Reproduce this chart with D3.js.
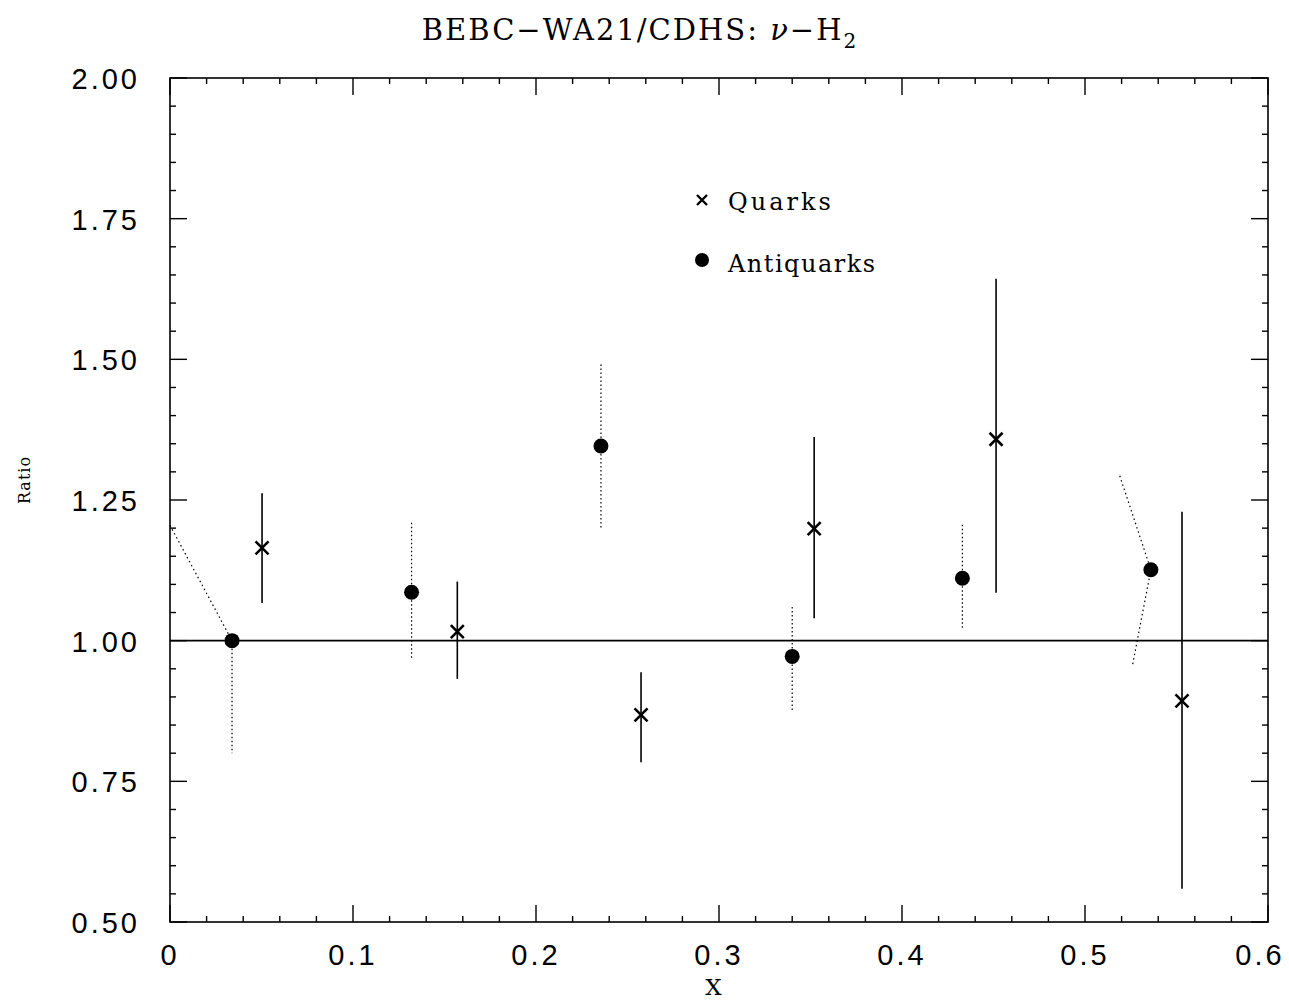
<!DOCTYPE html>
<html>
<head>
<meta charset="utf-8">
<script src="https://d3js.org/d3.v7.min.js"></script>
<style>
  body { margin: 0; background: #fff; }
  text { font-family: "DejaVu Serif", serif; fill: #000; }
  .tick-label { font-family: "Liberation Sans", Arial, sans-serif; font-size: 29px; letter-spacing: 3px; }
</style>
</head>
<body>
<div id="chart"></div>
<script>
// ----------------------------------------------- //
// Data
var quarkX    = [0.0503, 0.157, 0.2574, 0.352, 0.4514, 0.553];
var quarkY    = [1.165, 1.016, 0.868, 1.199, 1.358, 0.893];
var quarkLo   = [1.067, 0.932, 0.784, 1.040, 1.085, 0.559];
var quarkHi   = [1.262, 1.105, 0.944, 1.362, 1.643, 1.229];

var antiX     = [0.0339, 0.132, 0.2355, 0.340, 0.433, 0.536];
var antiY     = [1.000, 1.086, 1.346, 0.972, 1.111, 1.126];
var antiLo    = [0.800, 0.969, 1.197, 0.873, 1.019, null];
var antiHi    = [null, 1.210, 1.494, 1.063, 1.209, null];

// tilted dotted bars (drawn as in the original plot)
var slantBars = [
    [[0.0, 1.205], [0.0339, 1.000]],
    [[0.519, 1.293], [0.536, 1.126], [0.526, 0.957]]
];

var xTicks = [0, 0.1, 0.2, 0.3, 0.4, 0.5, 0.6];
var yTicks = [0.50, 0.75, 1.00, 1.25, 1.50, 1.75, 2.00];

// ----------------------------------------------- //
var svgWidth = 1289;
var svgHeight = 1002;
var margin = { top: 78, right: 21, bottom: 80, left: 170 };
var chartWidth = svgWidth - margin.left - margin.right;
var chartHeight = svgHeight - margin.top - margin.bottom;

var svg = d3.select("#chart")
    .append("svg")
    .attr("width", svgWidth)
    .attr("height", svgHeight);

var chartGroup = svg.append("g")
    .attr("transform", `translate(${margin.left}, ${margin.top})`);

var x = d3.scaleLinear().domain([0, 0.6]).range([0, chartWidth]);
var y = d3.scaleLinear().domain([0.5, 2.0]).range([chartHeight, 0]);

// ----------------------------------------------- //
// Frame and inward ticks on all four sides
chartGroup.append("rect")
    .attr("width", chartWidth)
    .attr("height", chartHeight)
    .attr("fill", "none")
    .attr("stroke", "#000")
    .attr("stroke-width", 1.6);

var xMinor = d3.range(0, 0.6001, 0.02);
var yMinor = d3.range(0.5, 2.0001, 0.05);

function isMajor(v, step) {
    return Math.abs(v / step - Math.round(v / step)) < 1e-6;
}

xMinor.forEach(function(v) {
    var len = isMajor(v, 0.1) ? 17 : 6;
    chartGroup.append("line").attr("x1", x(v)).attr("x2", x(v))
        .attr("y1", chartHeight).attr("y2", chartHeight - len)
        .attr("stroke", "#000").attr("stroke-width", 1.4);
    chartGroup.append("line").attr("x1", x(v)).attr("x2", x(v))
        .attr("y1", 0).attr("y2", len)
        .attr("stroke", "#000").attr("stroke-width", 1.4);
});

yMinor.forEach(function(v) {
    var len = isMajor(v, 0.25) ? 17 : 6;
    chartGroup.append("line").attr("x1", 0).attr("x2", len)
        .attr("y1", y(v)).attr("y2", y(v))
        .attr("stroke", "#000").attr("stroke-width", 1.4);
    chartGroup.append("line").attr("x1", chartWidth).attr("x2", chartWidth - len)
        .attr("y1", y(v)).attr("y2", y(v))
        .attr("stroke", "#000").attr("stroke-width", 1.4);
});

// Tick labels
chartGroup.selectAll(".xlab")
    .data(xTicks)
    .enter()
    .append("text")
    .attr("class", "tick-label")
    .attr("x", d => x(d) + (d === 0.6 ? -8 : 0))
    .attr("y", chartHeight + 43)
    .attr("text-anchor", "middle")
    .text(d => d === 0 ? "0" : d3.format(".1f")(d));

chartGroup.selectAll(".ylab")
    .data(yTicks)
    .enter()
    .append("text")
    .attr("class", "tick-label")
    .attr("x", -30)
    .attr("y", d => y(d) + 11)
    .attr("text-anchor", "end")
    .text(d => d3.format(".2f")(d));

// Axis titles
svg.append("text")
    .attr("x", margin.left + x(0.297))
    .attr("y", 995)
    .attr("text-anchor", "middle")
    .style("font-size", "23px")
    .text("X");

svg.append("text")
    .attr("transform", "translate(30, 480) rotate(-90)")
    .attr("text-anchor", "middle")
    .style("font-size", "16px")
    .style("letter-spacing", "1px")
    .text("Ratio");

// Title
var title = svg.append("text")
    .attr("x", 640)
    .attr("y", 40)
    .attr("text-anchor", "middle")
    .style("font-size", "29px")
    .style("letter-spacing", "2px");
title.append("tspan").text("BEBC\u2212WA21/CDHS: ");
title.append("tspan").style("font-style", "italic").text("\u03bd");
title.append("tspan").text("\u2212H");
title.append("tspan").attr("dy", 8).style("font-size", "20px").text("2");

// ----------------------------------------------- //
// Reference line at 1
chartGroup.append("line")
    .attr("x1", 0).attr("x2", chartWidth)
    .attr("y1", y(1)).attr("y2", y(1))
    .attr("stroke", "#000").attr("stroke-width", 1.8);

// Antiquark error bars (dotted)
antiX.forEach(function(xv, i) {
    if (antiLo[i] !== null) {
        chartGroup.append("line")
            .attr("x1", x(xv)).attr("x2", x(xv))
            .attr("y1", y(antiY[i])).attr("y2", y(antiLo[i]))
            .attr("stroke", "#000").attr("stroke-width", 1.2)
            .attr("stroke-dasharray", "1.5,2.5");
    }
    if (antiHi[i] !== null) {
        chartGroup.append("line")
            .attr("x1", x(xv)).attr("x2", x(xv))
            .attr("y1", y(antiY[i])).attr("y2", y(antiHi[i]))
            .attr("stroke", "#000").attr("stroke-width", 1.2)
            .attr("stroke-dasharray", "1.5,2.5");
    }
});

var slantLine = d3.line().x(d => x(d[0])).y(d => y(d[1]));
chartGroup.selectAll(".slant")
    .data(slantBars)
    .enter()
    .append("path")
    .attr("d", slantLine)
    .attr("fill", "none")
    .attr("stroke", "#000").attr("stroke-width", 1.2)
    .attr("stroke-dasharray", "1.5,3");

// Quark error bars (solid)
quarkX.forEach(function(xv, i) {
    chartGroup.append("line")
        .attr("x1", x(xv)).attr("x2", x(xv))
        .attr("y1", y(quarkLo[i])).attr("y2", y(quarkHi[i]))
        .attr("stroke", "#000").attr("stroke-width", 1.6);
});

// Markers
chartGroup.selectAll(".anti")
    .data(antiX)
    .enter()
    .append("circle")
    .attr("cx", d => x(d))
    .attr("cy", (d, i) => y(antiY[i]))
    .attr("r", 7.5)
    .attr("fill", "#000");

function crossPath(cx, cy, s) {
    return `M${cx - s},${cy - s}L${cx + s},${cy + s}M${cx - s},${cy + s}L${cx + s},${cy - s}`;
}

chartGroup.selectAll(".quark")
    .data(quarkX)
    .enter()
    .append("path")
    .attr("d", (d, i) => crossPath(x(d), y(quarkY[i]), 6.5))
    .attr("stroke", "#000")
    .attr("stroke-width", 2.6)
    .attr("fill", "none");

// ----------------------------------------------- //
// Legend
var legend = svg.append("g");
legend.append("path")
    .attr("d", crossPath(702, 200, 5))
    .attr("stroke", "#000").attr("stroke-width", 2.4).attr("fill", "none");
legend.append("text")
    .attr("x", 728).attr("y", 210)
    .style("font-size", "24px")
    .style("letter-spacing", "3px")
    .text("Quarks");
legend.append("circle")
    .attr("cx", 702).attr("cy", 260).attr("r", 7)
    .attr("fill", "#000");
legend.append("text")
    .attr("x", 728).attr("y", 272)
    .style("font-size", "24px")
    .style("letter-spacing", "1.5px")
    .text("Antiquarks");
</script>
</body>
</html>
